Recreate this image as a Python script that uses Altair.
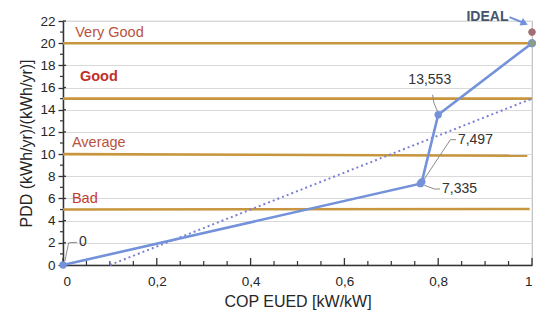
import altair as alt
import pandas as pd

# ---- data ----
cop = [0.0, 0.762, 0.765, 0.80, 1.0]
pdd = [0.0, 7.335, 7.497, 13.553, 20.0]

point_labels = ["0", "7,335", "7,497", "13,553"]
label_x = [0.034, 0.808, 0.842, 0.782]
label_y = [2.05, 6.85, 11.3, 16.7]
label_align = ["left", "left", "left", "center"]
# leader lines: label side -> elbow -> point side
leader_x = [[0.030, 0.012, 0.004], [0.804, 0.792, 0.770], [0.838, 0.826, 0.768], [0.788, 0.791, 0.799]]
leader_y = [[2.05, 2.0, 0.35], [6.85, 6.85, 7.2], [11.3, 11.3, 7.6], [15.35, 14.6, 13.8]]

trend_x = [0.1, 1.0]
trend_y = [0.0, 15.0]

band_names = ["Bad", "Average", "Good", "Very Good"]
band_levels = [5.0, 10.0, 15.0, 20.0]
band_level_end = [5.05, 9.85, 15.0, 20.0]
band_end = [0.995, 0.99, 1.0, 1.0]
band_label_x = [0.019, 0.019, 0.036, 0.026]
band_label_y = [5.95, 11.0, 16.95, 20.9]
band_weight = ["normal", "normal", "bold", "normal"]
band_color = ["#c43c2c", "#b9533d", "#c0302a", "#b9533d"]

ideal_x, ideal_y = 1.0, 21.0
ideal_text_x, ideal_text_y = 0.905, 22.4
arrow_x = [0.952, 0.984]
arrow_y = [22.35, 21.8]

x_major = [0.0, 0.2, 0.4, 0.6, 0.8, 1.0]
x_minor = [0.05, 0.1, 0.15, 0.25, 0.3, 0.35, 0.45, 0.5, 0.55, 0.65, 0.7, 0.75, 0.85, 0.9, 0.95]
y_major = [0, 2, 4, 6, 8, 10, 12, 14, 16, 18, 20, 22]
y_minor = [1, 3, 5, 7, 9, 11, 13, 15, 17, 19, 21]

W, H = 469, 244
FONT = "Liberation Sans"
BLUE = "#7392da"
GOLD = "#c8963e"

xs = alt.Scale(domain=[0, 1], nice=False, zero=False)
ys = alt.Scale(domain=[0, 22], nice=False, zero=False)

X_AXIS = alt.Axis(values=x_major, tickSize=0, grid=False, labelPadding=9, format=".1~f",
                  labelExpr="replace(datum.label, '.', ',')",
                  domainColor="#333333", domainWidth=1.5, titlePadding=6)
Y_AXIS = alt.Axis(values=y_major, tickSize=5, tickColor="#333333", tickWidth=1.3,
                  grid=True, gridColor="#d9d9d9", gridWidth=1.2,
                  domainColor="#333333", domainWidth=1.5, labelPadding=3, titlePadding=5)
X_TITLE = "COP EUED [kW/kW]"
Y_TITLE = "PDD  (kWh/yr)/(kWh/yr)]"


def X(f="x"):
    return alt.X(f"{f}:Q", scale=xs, axis=X_AXIS, title=X_TITLE)


def Y(f="y"):
    return alt.Y(f"{f}:Q", scale=ys, axis=Y_AXIS, title=Y_TITLE)


# tick marks
xmaj_df = pd.DataFrame({"x": x_major})
xmin_df = pd.DataFrame({"x": x_minor})
ymaj_df = pd.DataFrame({"y": y_major})
ymin_df = pd.DataFrame({"y": y_minor})
ticks = [
    alt.Chart(xmaj_df).mark_rule(color="#333333", strokeWidth=1.3).encode(
        x=X(), y=alt.value(H - 7), y2=alt.value(H)),
    alt.Chart(xmin_df).mark_rule(color="#333333", strokeWidth=1.2).encode(
        x=X(), y=alt.value(H - 4), y2=alt.value(H)),
    alt.Chart(ymaj_df).mark_rule(color="#333333", strokeWidth=1.3).encode(
        y=Y(), x=alt.value(0), x2=alt.value(3)),
    alt.Chart(ymin_df).mark_rule(color="#333333", strokeWidth=1.2).encode(
        y=Y(), x=alt.value(-3), x2=alt.value(0)),
]

# category bands
band_df = pd.DataFrame({"name": band_names, "y": band_levels, "y2": band_level_end,
                        "x": [0.0] * 4, "x2": band_end,
                        "lx": band_label_x, "ly": band_label_y})
bands = alt.Chart(band_df).mark_rule(color=GOLD, strokeWidth=2.6).encode(
    x=X(), x2="x2:Q", y=Y(), y2="y2:Q")
band_text = [
    alt.Chart(band_df.iloc[[i]]).mark_text(
        align="left", baseline="middle", font=FONT, fontSize=14.5,
        fontWeight=band_weight[i], color=band_color[i]).encode(
        x=X("lx"), y=Y("ly"), text="name:N")
    for i in range(len(band_names))
]

# trend (dotted)
trend_df = pd.DataFrame({"x": trend_x, "y": trend_y})
trend = alt.Chart(trend_df).mark_line(color="#7b80d2", strokeWidth=2, strokeDash=[2, 3]).encode(
    x=X(), y=Y())

# main series
ser_df = pd.DataFrame({"x": cop, "y": pdd})
ser_line = alt.Chart(ser_df).mark_line(color=BLUE, strokeWidth=2.6).encode(x=X(), y=Y())
ser_pts = alt.Chart(ser_df.iloc[:-1]).mark_point(filled=True, color=BLUE, size=55, opacity=1).encode(
    x=X(), y=Y())
last_pt = alt.Chart(ser_df.iloc[[-1]]).mark_point(filled=True, color="#8c9f84", size=55, opacity=1,
                                                   stroke=BLUE, strokeWidth=1).encode(x=X(), y=Y())

# leader lines
rows = []
for g, (lxs, lys) in enumerate(zip(leader_x, leader_y)):
    for o, (a, b) in enumerate(zip(lxs, lys)):
        rows.append({"g": g, "o": o, "x": a, "y": b})
lead_df = pd.DataFrame(rows)
leaders = alt.Chart(lead_df).mark_line(color="#8c8c8c", strokeWidth=1).encode(
    x=X(), y=Y(), detail="g:N", order="o:Q")

lab_df = pd.DataFrame({"t": point_labels, "x": label_x, "y": label_y})
labs = [
    alt.Chart(lab_df.iloc[[i]]).mark_text(align=label_align[i], baseline="middle", font=FONT,
                                          fontSize=14, color="#333333").encode(
        x=X(), y=Y(), text="t:N")
    for i in range(len(point_labels))
]

# ideal point and arrow
ideal_df = pd.DataFrame({"x": [ideal_x], "y": [ideal_y]})
ideal_pt = alt.Chart(ideal_df).mark_point(filled=True, color="#9a6c86", size=45, opacity=1,
                                          stroke="#b0785c", strokeWidth=1).encode(x=X(), y=Y())
ideal_txt_df = pd.DataFrame({"x": [ideal_text_x], "y": [ideal_text_y], "t": ["IDEAL"]})
ideal_txt = alt.Chart(ideal_txt_df).mark_text(font=FONT, fontSize=14, fontWeight="bold",
                                              color="#44546a", baseline="middle").encode(
    x=X(), y=Y(), text="t:N")
arrow_df = pd.DataFrame({"x": arrow_x, "y": arrow_y})
arrow = alt.Chart(arrow_df).mark_line(color=BLUE, strokeWidth=2).encode(x=X(), y=Y())
head = alt.Chart(arrow_df.iloc[[-1]]).mark_point(shape="triangle-right", filled=True, color=BLUE,
                                                 size=70, angle=24, opacity=1).encode(x=X(), y=Y())

chart = alt.layer(
    *ticks, bands, *band_text, trend, ser_line, leaders, ser_pts, last_pt,
    ideal_pt, arrow, head, ideal_txt, *labs
).properties(
    width=W, height=H,
    autosize=alt.AutoSizeParams(type="none"),
    padding={"left": 55, "top": 13, "right": 10, "bottom": 48},
).configure_view(stroke="#bfbfbf", strokeWidth=1.2).configure_axis(
    labelFont=FONT, labelFontSize=13.5, labelColor="#262626",
    titleFont=FONT, titleFontSize=16, titleFontWeight="normal", titleColor="#262626",
)

chart.save("out.html", embed_options={"renderer": "svg", "actions": False})
